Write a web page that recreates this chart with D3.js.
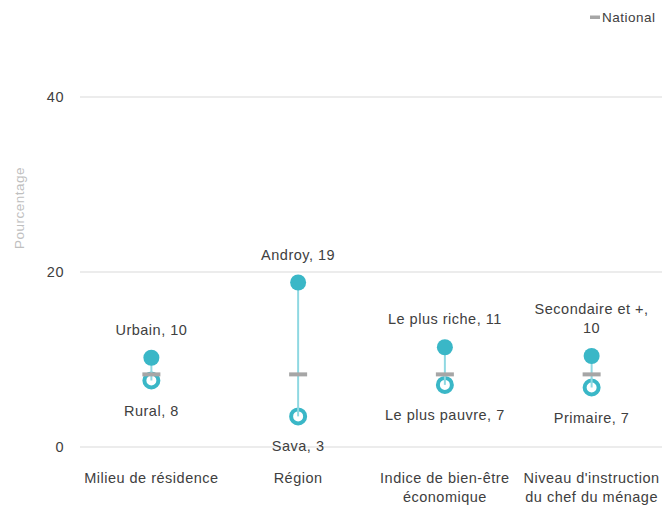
<!DOCTYPE html>
<html><head><meta charset="utf-8">
<script src="https://cdn.jsdelivr.net/npm/d3@7/dist/d3.min.js"></script>
<style>body{margin:0;background:#fff}svg{display:block}text{font-family:"Liberation Sans",Arial,sans-serif;letter-spacing:0.5px}</style>
</head><body>
<svg id="c" width="672" height="506"></svg>
<script>
const categories = [["Milieu de résidence"], ["Région"], ["Indice de bien-être", "économique"], ["Niveau d'instruction", "du chef du ménage"]];
const highLabels = [["Urbain, 10"], ["Androy, 19"], ["Le plus riche, 11"], ["Secondaire et +,", "10"]];
const highValues = [10.2, 18.8, 11.4, 10.4];
const lowLabels = ["Rural, 8", "Sava, 3", "Le plus pauvre, 7", "Primaire, 7"];
const lowValues = [7.6, 3.5, 7.1, 6.8];
const nationalValues = [8.3, 8.3, 8.3, 8.3];
const yTicks = [0, 20, 40];
const yTitle = "Pourcentage";
const legendLabel = "National";

const svg = d3.select("#c");
const x = d3.scaleBand().domain(d3.range(categories.length)).range([78, 665]);
const y = d3.scaleLinear().domain([0, 40]).range([447, 97]);
const cx = i => x(i) + x.bandwidth() / 2;
const txt = "#404040", teal = "#3ab7c7", lineC = "#8fd8e2", gray = "#a6a6a6";
const fs = 14.5;

// grid
svg.append("g").selectAll("line").data(yTicks).join("line")
  .attr("x1", 80).attr("x2", 662).attr("y1", d => y(d)).attr("y2", d => y(d))
  .attr("stroke", "#d9d9d9").attr("stroke-width", 1);
svg.append("g").selectAll("text").data(yTicks).join("text")
  .attr("x", 64).attr("y", d => y(d)).attr("dy", "0.35em").attr("text-anchor", "end")
  .attr("font-size", fs).attr("fill", txt).text(d => d);
svg.append("text").attr("transform", "translate(24,208) rotate(-90)")
  .attr("text-anchor", "middle").attr("font-size", 13.5).attr("letter-spacing", "0.7px").attr("fill", "#bfbfbf").text(yTitle);

// legend
svg.append("rect").attr("x", 590).attr("y", 15.5).attr("width", 10).attr("height", 3.5).attr("fill", gray);
svg.append("text").attr("x", 602).attr("y", 17).attr("dy", "0.35em").attr("font-size", 13.5).attr("fill", txt).text(legendLabel);

// category labels
const cg = svg.append("g").selectAll("text").data(categories).join("text")
  .attr("x", (d, i) => cx(i)).attr("y", 478).attr("text-anchor", "middle")
  .attr("font-size", fs).attr("fill", txt);
cg.selectAll("tspan").data((d, i) => d.map(s => ({s, i}))).join("tspan")
  .attr("x", d => cx(d.i)).attr("dy", (d, j) => j ? 19 : "0.35em").text(d => d.s);

const idx = d3.range(categories.length);
// low rings
svg.append("g").selectAll("circle").data(idx).join("circle")
  .attr("cx", cx).attr("cy", i => y(lowValues[i])).attr("r", 7)
  .attr("fill", "#fff").attr("stroke", teal).attr("stroke-width", 4);
// connecting lines
svg.append("g").selectAll("line").data(idx).join("line")
  .attr("x1", cx).attr("x2", cx).attr("y1", i => y(highValues[i])).attr("y2", i => y(lowValues[i]))
  .attr("stroke", lineC).attr("stroke-width", 2);
// high dots
svg.append("g").selectAll("circle").data(idx).join("circle")
  .attr("cx", cx).attr("cy", i => y(highValues[i])).attr("r", 8).attr("fill", teal);
// national
svg.append("g").selectAll("rect").data(idx).join("rect")
  .attr("x", i => cx(i) - 9).attr("y", i => y(nationalValues[i]) - 2).attr("width", 18).attr("height", 4)
  .attr("fill", gray);

// high labels
const hl = svg.append("g").selectAll("text").data(idx).join("text")
  .attr("text-anchor", "middle").attr("font-size", fs).attr("fill", txt)
  .attr("y", i => y(highValues[i]) - 28 - (highLabels[i].length - 1) * 19);
hl.selectAll("tspan").data(i => highLabels[i].map(s => ({s, i}))).join("tspan")
  .attr("x", d => cx(d.i)).attr("dy", (d, j) => j ? 19 : "0.35em").text(d => d.s);
// low labels
svg.append("g").selectAll("text").data(idx).join("text")
  .attr("text-anchor", "middle").attr("font-size", fs).attr("fill", txt)
  .attr("x", cx).attr("y", i => y(lowValues[i]) + 30).attr("dy", "0.35em").text(i => lowLabels[i]);
</script>
</body></html>
